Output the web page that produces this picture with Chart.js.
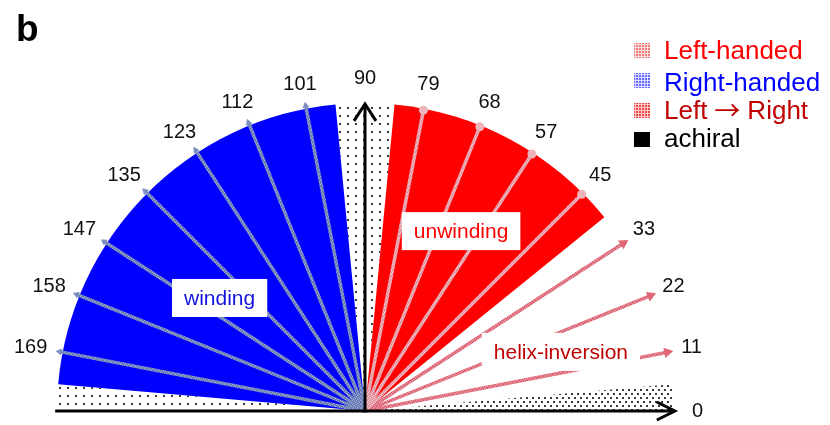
<!DOCTYPE html>
<html>
<head>
<meta charset="utf-8">
<script src="https://cdn.jsdelivr.net/npm/chart.js@4/dist/chart.umd.min.js"></script>
<style>
  html, body { margin: 0; padding: 0; background: #fff; }
  #wrap { position: relative; width: 830px; height: 425px; }
</style>
</head>
<body>
<div id="wrap"><canvas id="chart" width="830" height="425"></canvas></div>
<script>
// arrow directions in degrees, grouped by handedness
const leftHanded = [45, 57, 68, 79];
const rightHanded = [101, 112, 123, 135, 147, 158, 169];
const leftToRight = [11, 22, 33];
const tickAngles = [0, 11, 22, 33, 45, 57, 68, 79, 90, 101, 112, 123, 135, 147, 158, 169];

// shaded wedges, [from, to] in degrees
const achiralRanges = [[0, 5], [84.5, 95.5], [175, 180]];
const unwindingRange = [39, 84.5];
const windingRange = [95.5, 175];

// legend entries; a name may be split so the arrow glyph gets its own font
const legendNames = [['Left-handed'], ['Right-handed'], ['Left', '\u2192', 'Right'], ['achiral']];
const legendColors = ['#ff0000', '#0000ff', '#c00000', '#000000'];
const regionNames = ['winding', 'unwinding', 'helix-inversion'];
const regionColors = ['#1414dc', '#ff0000', '#c00000'];

// layout: where the origin sits and how many pixels one unit of radius takes
const CENTER_PX = { x: 365, y: 411 };
const RADIUS_PX = 308;
const W = 830, H = 425;
const FONT = '"Liberation Sans", Arial, sans-serif';

const canvas = document.getElementById('chart');
const ctx = canvas.getContext('2d');

function rad(d) { return d * Math.PI / 180; }

function grainPattern(base, light) {
  const c = document.createElement('canvas');
  c.width = 4; c.height = 4;
  const g = c.getContext('2d');
  g.fillStyle = base; g.fillRect(0, 0, 4, 4);
  g.fillStyle = light;
  [[0, 0], [2, 1], [1, 3], [3, 2]].forEach(([x, y]) => g.fillRect(x, y, 1, 1));
  return ctx.createPattern(c, 'repeat');
}

function dotPattern(w, h, dots, color) {
  const c = document.createElement('canvas');
  c.width = w; c.height = h;
  const g = c.getContext('2d');
  g.fillStyle = '#fff'; g.fillRect(0, 0, w, h);
  g.fillStyle = color;
  dots.forEach(([x, y]) => g.fillRect(x, y, 2, 2));
  return ctx.createPattern(c, 'repeat');
}

function gridPattern(color, bg) {
  const c = document.createElement('canvas');
  c.width = 3; c.height = 3;
  const g = c.getContext('2d');
  g.fillStyle = bg; g.fillRect(0, 0, 3, 3);
  g.fillStyle = color; g.fillRect(0, 0, 2, 2);
  return ctx.createPattern(c, 'repeat');
}

const patterns = {
  sparseDots: dotPattern(8, 8, [[3, 3]], '#3a3a3a'),
  denseDots: dotPattern(6, 8, [[1, 1], [4, 5]], '#3a3a3a'),
  blueArrow: grainPattern('#6d80b6', '#a3b0d6'),
  redArrow: grainPattern('#e49aa4', '#f4ccd2'),
  helixArrow: grainPattern('#dd6878', '#eea2ac')
};

const legendFills = [
  gridPattern('#f07a7a', '#fbe0e0'),
  gridPattern('#6a6aff', '#dcdcff'),
  gridPattern('#f04848', '#fbcaca'),
  '#000000'
];

const arrowStyles = {
  right: { stroke: patterns.blueArrow, head: '#7d8fc0', style: 'triangle', size: 4, len: 1.01 },
  left: { stroke: patterns.redArrow, head: '#eeb4bb', style: 'circle', size: 4.5, len: 0.995 },
  helix: { stroke: patterns.helixArrow, head: '#e06676', style: 'triangle', size: 6, len: 1.0 }
};

function arrowDataset(deg, s) {
  const t = rad(deg);
  return {
    type: 'line',
    data: [{ x: 0, y: 0 }, { x: s.len * Math.cos(t), y: s.len * Math.sin(t) }],
    showLine: true,
    borderColor: s.stroke,
    borderWidth: 3.5,
    borderCapStyle: 'round',
    pointRadius: [0, s.size],
    pointStyle: s.style,
    pointRotation: [0, 90 - deg],
    pointBackgroundColor: s.head,
    pointBorderColor: s.head,
    pointBorderWidth: 0,
    clip: false
  };
}

const datasets = [
  ...rightHanded.map(d => arrowDataset(d, arrowStyles.right)),
  ...leftHanded.map(d => arrowDataset(d, arrowStyles.left)),
  ...leftToRight.map(d => arrowDataset(d, arrowStyles.helix))
];

// helpers working through the chart's scales
function polar(chart, r, deg) {
  const { x, y } = chart.scales;
  return {
    x: x.getPixelForValue(r * Math.cos(rad(deg))),
    y: y.getPixelForValue(r * Math.sin(rad(deg)))
  };
}

function unitPx(chart) {
  const x = chart.scales.x;
  return x.getPixelForValue(1) - x.getPixelForValue(0);
}

function wedge(c, chart, range, fill) {
  const o = polar(chart, 0, 0);
  const r = unitPx(chart);
  c.beginPath();
  c.moveTo(o.x, o.y);
  c.arc(o.x, o.y, r, -rad(range[1]), -rad(range[0]), false);
  c.closePath();
  c.fillStyle = fill;
  c.fill();
}

const sectorPlugin = {
  id: 'sectors',
  beforeDatasetsDraw(chart) {
    const c = chart.ctx;
    c.save();
    achiralRanges.forEach((rg, i) => wedge(c, chart, rg, i === 0 ? patterns.denseDots : patterns.sparseDots));
    wedge(c, chart, windingRange, '#0000ff');
    wedge(c, chart, unwindingRange, '#ff0000');
    c.restore();
  }
};

// region captions sit at these (x, y) positions in data units
const regionSpots = [[-0.472, 0.367], [0.312, 0.584], [0.636, 0.192]];

const overlayPlugin = {
  id: 'overlay',
  afterDatasetsDraw(chart) {
    const c = chart.ctx;
    const sx = chart.scales.x, sy = chart.scales.y;
    c.save();

    // axes with open arrow heads
    c.strokeStyle = '#000';
    c.lineWidth = 3;
    c.lineCap = 'butt';
    c.lineJoin = 'miter';
    const x0 = sx.getPixelForValue(-1.006), x1 = sx.getPixelForValue(1.006);
    const y0 = sy.getPixelForValue(0), yTop = sy.getPixelForValue(0.997);
    const ox = sx.getPixelForValue(0);
    c.beginPath();
    c.moveTo(x0, y0); c.lineTo(x1 - 1, y0);
    c.moveTo(ox, y0); c.lineTo(ox, yTop + 1);
    c.stroke();
    c.beginPath();
    c.moveTo(x1 - 18, y0 - 9); c.lineTo(x1, y0); c.lineTo(x1 - 18, y0 + 9);
    c.moveTo(ox - 11, yTop + 17); c.lineTo(ox, yTop); c.lineTo(ox + 11, yTop + 17);
    c.stroke();

    // caption boxes
    c.font = '21px ' + FONT;
    c.textAlign = 'center';
    c.textBaseline = 'middle';
    regionNames.forEach((name, i) => {
      const px = sx.getPixelForValue(regionSpots[i][0]);
      const py = sy.getPixelForValue(regionSpots[i][1]);
      const w = c.measureText(name).width + 24;
      c.fillStyle = '#fff';
      c.fillRect(px - w / 2, py - 19, w, 38);
      c.fillStyle = regionColors[i];
      c.fillText(name, px, py + 1);
    });

    // angle labels just past the arrow tips; left-side ones sit a bit further out
    c.font = '20px ' + FONT;
    c.fillStyle = '#111';
    tickAngles.forEach(a => {
      const p = polar(chart, 1.08, a);
      const cs = Math.cos(rad(a));
      const nudge = cs < -0.1 ? 8 * cs : 0;
      c.fillText(String(a), p.x + nudge, p.y);
    });

    // legend
    c.textAlign = 'left';
    c.textBaseline = 'alphabetic';
    const boxTops = [43, 73, 103, 132];
    const baselines = [59, 91, 119, 147];
    legendNames.forEach((parts, i) => {
      c.fillStyle = legendFills[i];
      c.fillRect(634, boxTops[i], 16, 15);
      c.fillStyle = legendColors[i];
      let x = 664;
      parts.forEach((part, k) => {
        const isArrow = part === '\u2192';
        c.font = isArrow ? '26px "Noto Sans CJK SC", "DejaVu Sans", sans-serif' : '26px ' + FONT;
        if (k > 0) x += 7;
        c.fillText(part, x, baselines[i] + (isArrow ? 1 : 0));
        x += c.measureText(part).width;
      });
    });

    // panel letter
    c.font = 'bold 37px ' + FONT;
    c.fillStyle = '#000';
    c.fillText('b', 16, 41);
    c.restore();
  }
};

new Chart(ctx, {
  type: 'scatter',
  data: { datasets },
  options: {
    responsive: false,
    animation: false,
    events: [],
    layout: { padding: 0, autoPadding: false },
    scales: {
      x: { display: false, min: -CENTER_PX.x / RADIUS_PX, max: (W - CENTER_PX.x) / RADIUS_PX },
      y: { display: false, min: -(H - CENTER_PX.y) / RADIUS_PX, max: CENTER_PX.y / RADIUS_PX }
    },
    plugins: {
      legend: { display: false },
      tooltip: { enabled: false }
    }
  },
  plugins: [sectorPlugin, overlayPlugin]
});
</script>
</body>
</html>
